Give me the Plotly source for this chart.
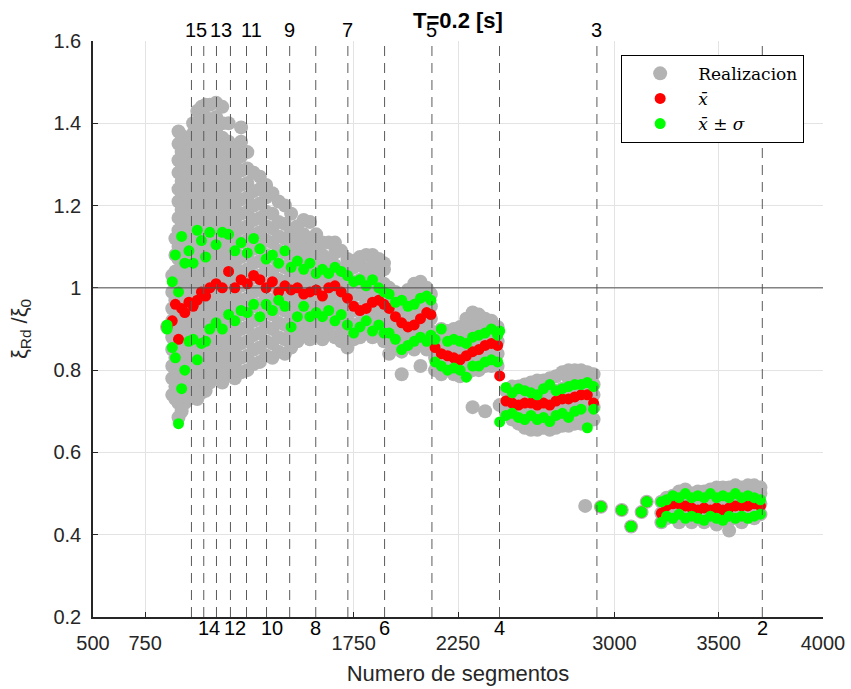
import plotly.graph_objects as go

# ---------------- data ----------------
x_cols = [855, 880, 895, 910, 925, 940, 960, 980, 1000, 1020, 1040, 1060, 1090, 1120, 1150,
          1180, 1210, 1240, 1270, 1300, 1330, 1360, 1390, 1420, 1450, 1480, 1510, 1540, 1570,
          1600, 1630, 1660, 1690, 1720, 1750, 1780, 1810, 1840, 1870, 1895,
          1920, 1950, 1980, 2010, 2040, 2070, 2100, 2120,
          2140, 2170, 2200, 2230, 2260, 2290, 2320, 2350, 2380, 2410, 2440,
          2450, 2480, 2510, 2540, 2570, 2600, 2630, 2660, 2690, 2720, 2750, 2780, 2810, 2840, 2870, 2900,
          2860, 2935, 3035, 3080, 3130, 3155, 3225,
          3250, 3280, 3310, 3340, 3370, 3400, 3430, 3460, 3490, 3520, 3550, 3580, 3610, 3640, 3670, 3700]

mean_vals = [0.905, 0.92, 0.96, 0.875, 0.95, 0.94, 0.965, 0.955, 0.97, 0.99, 0.98, 1.00, 1.01, 1.00, 1.04,
             1.00, 1.02, 1.01, 1.03, 1.02, 1.00, 1.015, 0.99, 1.005, 0.995, 1.00, 0.985, 0.99, 0.995,
             0.98, 1.00, 1.005, 0.99, 0.975, 0.955, 0.945, 0.95, 0.965, 0.97, 0.96,
             0.95, 0.93, 0.915, 0.905, 0.91, 0.925, 0.94, 0.935,
             0.855, 0.84, 0.835, 0.83, 0.825, 0.835, 0.845, 0.85, 0.86, 0.865, 0.86,
             0.786, 0.725, 0.72, 0.715, 0.72, 0.72, 0.715, 0.72, 0.715, 0.725, 0.73, 0.73, 0.735, 0.74, 0.74, 0.72,
             None, 0.468, 0.46, 0.42, 0.455, 0.48, 0.452,
             0.47, 0.475, 0.475, 0.47, 0.465, 0.46, 0.465, 0.46, 0.465, 0.46, 0.465, 0.47, 0.47, 0.47, 0.475, 0.47]

upper_vals = [0.91, 1.015, 1.08, 0.99, 1.125, 1.06, 1.09, 1.06, 1.14, 1.115, 1.075, 1.135, 1.105, 1.135, 1.13,
              1.09, 1.11, 1.085, 1.12, 1.095, 1.07, 1.08, 1.06, 1.09, 1.05, 1.065, 1.045, 1.06, 1.035,
              1.045, 1.035, 1.05, 1.04, 1.03, 1.015, 1.02, 1.005, 1.02, 1.00, 0.99,
              0.985, 0.965, 0.97, 0.955, 0.96, 0.975, 0.98, 0.97,
              0.875, 0.90, 0.87, 0.875, 0.87, 0.865, 0.88, 0.885, 0.89, 0.90, 0.885,
              0.895, 0.758, 0.745, 0.755, 0.75, 0.745, 0.74, 0.755, 0.765, 0.75, 0.755, 0.76, 0.765, 0.765, 0.77, 0.76,
              None, 0.468, 0.46, 0.42, 0.455, 0.48, 0.48,
              0.485, 0.495, 0.49, 0.50, 0.49, 0.495, 0.49, 0.50, 0.49, 0.495, 0.49, 0.50, 0.49, 0.495, 0.49, 0.485]

lower_vals = [0.90, 0.855, 0.83, 0.67, 0.755, 0.80, 0.87, 0.875, 0.825, 0.865, 0.87, 0.90, 0.915, 0.90, 0.935,
              0.92, 0.945, 0.94, 0.96, 0.93, 0.96, 0.945, 0.97, 0.955, 0.905, 0.93, 0.955, 0.93, 0.94,
              0.93, 0.945, 0.92, 0.935, 0.91, 0.89, 0.905, 0.92, 0.895, 0.91, 0.89,
              0.89, 0.875, 0.85, 0.86, 0.87, 0.88, 0.87, 0.885,
              0.82, 0.81, 0.80, 0.805, 0.80, 0.783, 0.81, 0.81, 0.82, 0.825, 0.82,
              0.674, 0.69, 0.695, 0.685, 0.68, 0.69, 0.68, 0.685, 0.675, 0.69, 0.695, 0.685, 0.70, 0.705, 0.66, 0.705,
              None, 0.468, 0.46, 0.42, 0.455, 0.48, 0.43,
              0.445, 0.44, 0.45, 0.44, 0.445, 0.44, 0.435, 0.445, 0.44, 0.435, 0.445, 0.44, 0.445, 0.44, 0.445, 0.45]

gray_vals = [
    [0.905],
    [0.74, 0.78, 0.81, 0.85, 0.88, 0.92, 0.95, 0.99, 1.03],
    [0.73, 0.76, 0.80, 0.83, 0.87, 0.90, 0.94, 0.97, 1.01, 1.04, 1.08, 1.12],
    [0.685, 0.72, 0.75, 0.79, 0.82, 0.86, 0.89, 0.93, 0.96, 1.00, 1.03, 1.07, 1.10, 1.14, 1.17, 1.21, 1.24, 1.28, 1.31, 1.35, 1.38],
    [0.70, 0.74, 0.77, 0.81, 0.84, 0.88, 0.91, 0.95, 0.98, 1.02, 1.05, 1.09, 1.12, 1.16, 1.19, 1.23, 1.26, 1.30, 1.33, 1.37],
    [0.72, 0.755, 0.79, 0.825, 0.86, 0.895, 0.93, 0.965, 1.0, 1.035, 1.07, 1.105, 1.14, 1.175, 1.21, 1.245, 1.28, 1.315, 1.35],
    [0.73, 0.77, 0.80, 0.84, 0.87, 0.91, 0.94, 0.98, 1.01, 1.05, 1.08, 1.12, 1.15, 1.19, 1.22, 1.26, 1.29, 1.33],
    [0.745, 0.78, 0.815, 0.85, 0.885, 0.92, 0.955, 0.99, 1.025, 1.06, 1.095, 1.13, 1.165, 1.2, 1.235, 1.27, 1.305, 1.34, 1.375, 1.40],
    [0.73, 0.765, 0.80, 0.835, 0.87, 0.905, 0.94, 0.975, 1.01, 1.045, 1.08, 1.115, 1.15, 1.185, 1.22, 1.255, 1.29, 1.325, 1.36, 1.395, 1.43],
    [0.745, 0.78, 0.815, 0.85, 0.885, 0.92, 0.955, 0.99, 1.025, 1.06, 1.095, 1.13, 1.165, 1.20, 1.235, 1.27, 1.305, 1.34, 1.375, 1.41, 1.44],
    [0.75, 0.785, 0.82, 0.855, 0.89, 0.925, 0.96, 0.995, 1.03, 1.065, 1.10, 1.135, 1.17, 1.205, 1.24, 1.275, 1.31, 1.345, 1.38, 1.415, 1.445],
    [0.77, 0.805, 0.84, 0.875, 0.91, 0.945, 0.98, 1.015, 1.05, 1.085, 1.12, 1.155, 1.19, 1.225, 1.26, 1.295, 1.33, 1.365, 1.40, 1.445],
    [0.785, 0.82, 0.855, 0.89, 0.925, 0.96, 0.995, 1.03, 1.065, 1.10, 1.135, 1.17, 1.205, 1.24, 1.275, 1.31, 1.345, 1.38, 1.415, 1.45],
    [0.77, 0.805, 0.84, 0.875, 0.91, 0.945, 0.98, 1.015, 1.05, 1.085, 1.12, 1.155, 1.19, 1.225, 1.26, 1.295, 1.33, 1.365, 1.40, 1.44],
    [0.795, 0.83, 0.865, 0.90, 0.935, 0.97, 1.005, 1.04, 1.075, 1.11, 1.145, 1.18, 1.215, 1.25, 1.285, 1.32, 1.355, 1.40],
    [0.78, 0.815, 0.85, 0.885, 0.92, 0.955, 0.99, 1.025, 1.06, 1.095, 1.13, 1.165, 1.20, 1.235, 1.27, 1.305, 1.34],
    [0.795, 0.83, 0.865, 0.90, 0.935, 0.97, 1.005, 1.04, 1.075, 1.11, 1.145, 1.18, 1.215, 1.25, 1.285, 1.32, 1.355, 1.39],
    [0.80, 0.835, 0.87, 0.905, 0.94, 0.975, 1.01, 1.045, 1.08, 1.115, 1.15, 1.185, 1.22, 1.255, 1.29, 1.33],
    [0.815, 0.85, 0.885, 0.92, 0.955, 0.99, 1.025, 1.06, 1.095, 1.13, 1.165, 1.20, 1.235, 1.28],
    [0.82, 0.855, 0.89, 0.925, 0.96, 0.995, 1.03, 1.065, 1.10, 1.135, 1.17, 1.205, 1.24, 1.27],
    [0.835, 0.87, 0.905, 0.94, 0.975, 1.01, 1.045, 1.08, 1.115, 1.15, 1.185, 1.22, 1.25],
    [0.83, 0.865, 0.90, 0.935, 0.97, 1.005, 1.04, 1.075, 1.11, 1.145, 1.18, 1.23],
    [0.845, 0.88, 0.915, 0.95, 0.985, 1.02, 1.055, 1.09, 1.125, 1.16, 1.21],
    [0.84, 0.875, 0.91, 0.945, 0.98, 1.015, 1.05, 1.085, 1.12, 1.155, 1.20],
    [0.855, 0.89, 0.925, 0.96, 0.995, 1.03, 1.065, 1.10, 1.135, 1.18],
    [0.87, 0.905, 0.94, 0.975, 1.01, 1.045, 1.08, 1.115, 1.15],
    [0.885, 0.92, 0.955, 0.99, 1.025, 1.06, 1.095, 1.13, 1.165],
    [0.875, 0.91, 0.945, 0.98, 1.015, 1.05, 1.085, 1.12, 1.16],
    [0.89, 0.925, 0.96, 0.995, 1.03, 1.065, 1.10, 1.13],
    [0.875, 0.91, 0.945, 0.98, 1.015, 1.05, 1.08, 1.11],
    [0.89, 0.925, 0.96, 0.995, 1.03, 1.065, 1.11],
    [0.88, 0.915, 0.95, 0.985, 1.02, 1.055, 1.085, 1.11],
    [0.87, 0.905, 0.94, 0.975, 1.01, 1.045, 1.09],
    [0.855, 0.89, 0.925, 0.96, 0.995, 1.03, 1.07],
    [0.875, 0.91, 0.945, 0.98, 1.015, 1.05, 1.065],
    [0.88, 0.915, 0.95, 0.985, 1.02, 1.055, 1.075],
    [0.895, 0.93, 0.965, 1.0, 1.035, 1.08],
    [0.88, 0.915, 0.95, 0.985, 1.02, 1.055, 1.08],
    [0.895, 0.93, 0.965, 1.0, 1.035, 1.07],
    [0.87, 0.905, 0.94, 0.975, 1.01, 1.045, 1.06],
    # cluster 2
    [0.84, 0.87, 0.90, 0.93, 0.96, 1.0],
    [0.855, 0.885, 0.915, 0.945, 0.975, 0.99],
    [0.79, 0.845, 0.875, 0.905, 0.935, 0.965, 0.98],
    [0.86, 0.89, 0.92, 0.95, 0.98, 0.995],
    [0.85, 0.88, 0.91, 0.94, 0.97, 1.01],
    [0.81, 0.865, 0.895, 0.925, 0.955, 0.985, 1.015],
    [0.85, 0.88, 0.91, 0.94, 0.97, 1.0],
    [0.865, 0.895, 0.925, 0.955, 0.985],
    # cluster 3
    [0.80, 0.83, 0.86, 0.88],
    [0.79, 0.82, 0.85, 0.875, 0.90],
    [0.805, 0.835, 0.865, 0.895],
    [0.79, 0.82, 0.85, 0.875, 0.90],
    [0.785, 0.815, 0.845, 0.875, 0.905],
    [0.79, 0.82, 0.85, 0.88, 0.905, 0.925],
    [0.71, 0.80, 0.83, 0.86, 0.89, 0.915, 0.94],
    [0.80, 0.83, 0.86, 0.89, 0.915, 0.935],
    [0.70, 0.81, 0.84, 0.87, 0.90, 0.925],
    [0.81, 0.84, 0.87, 0.895, 0.92],
    [0.81, 0.84, 0.87, 0.905],
    # cluster 4
    [0.715],
    [0.695, 0.72, 0.75],
    [0.68, 0.71, 0.735, 0.76],
    [0.67, 0.70, 0.73, 0.76],
    [0.66, 0.69, 0.72, 0.745, 0.765],
    [0.655, 0.685, 0.715, 0.745, 0.77],
    [0.655, 0.685, 0.715, 0.745, 0.775],
    [0.66, 0.69, 0.72, 0.75, 0.775],
    [0.655, 0.685, 0.715, 0.745, 0.78],
    [0.66, 0.69, 0.72, 0.75, 0.785],
    [0.665, 0.695, 0.725, 0.755, 0.795],
    [0.665, 0.695, 0.725, 0.755, 0.78, 0.80],
    [0.67, 0.70, 0.73, 0.76, 0.80],
    [0.67, 0.70, 0.73, 0.76, 0.785, 0.80],
    [0.675, 0.705, 0.735, 0.765, 0.795],
    [0.68, 0.71, 0.74, 0.765, 0.79],
    # cluster 5 (sparse start)
    [0.47],
    [0.468],
    [0.46],
    [0.42],
    [0.455],
    [0.48],
    [0.43, 0.452, 0.48],
    # cluster 5
    [0.44, 0.465, 0.49],
    [0.445, 0.47, 0.495],
    [0.43, 0.455, 0.48, 0.505],
    [0.44, 0.465, 0.49, 0.51],
    [0.43, 0.455, 0.48, 0.50],
    [0.44, 0.465, 0.49, 0.505],
    [0.43, 0.455, 0.48, 0.505],
    [0.44, 0.465, 0.49, 0.51],
    [0.425, 0.45, 0.475, 0.50, 0.515],
    [0.435, 0.46, 0.485, 0.515],
    [0.41, 0.435, 0.46, 0.485, 0.515],
    [0.44, 0.465, 0.49, 0.52],
    [0.43, 0.455, 0.48, 0.515],
    [0.445, 0.47, 0.495, 0.52],
    [0.44, 0.465, 0.49, 0.52],
    [0.45, 0.475, 0.50, 0.515],
]

seg_x = [972, 1031, 1092, 1159, 1236, 1332, 1443, 1568, 1722, 1898, 2125, 2449, 2916, 3709]
seg_n = [15, 14, 13, 12, 11, 10, 9, 8, 7, 6, 5, 4, 3, 2]

x_tickvals = [500, 750, 1750, 2250, 3000, 3500, 4000]
y_tickvals = [0.2, 0.4, 0.6, 0.8, 1.0, 1.2, 1.4, 1.6]
y_ticktext = ["0.2", "0.4", "0.6", "0.8", "1", "1.2", "1.4", "1.6"]
ref_level = 1.0

# ---------------- build traces ----------------
gx, gy = [], []
for xv, vals in zip(x_cols, gray_vals):
    for v in vals:
        gx.append(xv)
        gy.append(v)

mx = [xv for xv, m in zip(x_cols, mean_vals) if m is not None]
my = [m for m in mean_vals if m is not None]
sx = [xv for xv, u in zip(x_cols, upper_vals) if u is not None] + \
     [xv for xv, l in zip(x_cols, lower_vals) if l is not None]
sy = [u for u in upper_vals if u is not None] + [l for l in lower_vals if l is not None]

fig = go.Figure()
fig.add_trace(go.Scatter(x=gx, y=gy, mode="markers", name="Realizacion",
                         marker=dict(color="#b3b3b3", size=14, line=dict(width=0))))
fig.add_trace(go.Scatter(x=mx, y=my, mode="markers", name="<i>x\u0304</i>",
                         marker=dict(color="#ff0000", size=11, line=dict(width=0))))
fig.add_trace(go.Scatter(x=sx, y=sy, mode="markers", name="<i>x\u0304</i> \u00b1 <i>\u03c3</i>",
                         marker=dict(color="#00ff00", size=11, line=dict(width=0))))

shapes = []
for xv in seg_x:
    shapes.append(dict(type="line", xref="x", yref="paper", x0=xv, x1=xv, y0=0, y1=1,
                       line=dict(color="#5a5a5a", width=1, dash="10px,7px"), layer="above"))
shapes.append(dict(type="line", xref="paper", yref="y", x0=0, x1=1, y0=ref_level, y1=ref_level,
                   line=dict(color="#4d4d4d", width=1), layer="above"))

annotations = []
for xv, n in zip(seg_x, seg_n):
    shift = 5 if n >= 10 else 0
    if n % 2 == 1:
        annotations.append(dict(x=xv, y=1, xref="x", yref="paper", text=str(n), showarrow=False,
                                xanchor="center", yanchor="bottom", xshift=shift, yshift=-2,
                                font=dict(family="Liberation Sans, Arial", size=20, color="#000000")))
    else:
        annotations.append(dict(x=xv, y=0, xref="x", yref="paper", text=str(n), showarrow=False,
                                xanchor="center", yanchor="top", xshift=shift, yshift=2,
                                font=dict(family="Liberation Sans, Arial", size=20, color="#000000")))

axis_font = dict(family="Liberation Sans, Arial", size=20, color="#262626")

fig.update_layout(
    width=851, height=689,
    margin=dict(l=93, r=28, t=41, b=72),
    paper_bgcolor="white", plot_bgcolor="white",
    title=dict(text="<b>T=0.2 [s]</b>", x=0.5, xref="paper", xanchor="center",
               y=1 - 20 / 689, yanchor="middle", yref="container",
               font=dict(family="Liberation Sans, Arial", size=22, color="#000000")),
    xaxis=dict(range=[500, 4000], tickvals=x_tickvals, ticks="inside", ticklen=5,
               tickcolor="#262626", tickwidth=1, showline=True, linecolor="#262626", linewidth=1.5,
               showgrid=True, gridcolor="#e3e3e3", gridwidth=1, zeroline=False,
               tickfont=axis_font, ticklabelstandoff=7, automargin=False,
               title=dict(text="Numero de segmentos", standoff=13,
                          font=dict(family="Liberation Sans, Arial", size=22, color="#262626"))),
    yaxis=dict(range=[0.2, 1.6], tickvals=y_tickvals, ticktext=y_ticktext, ticks="inside", ticklen=5,
               tickcolor="#262626", tickwidth=1, showline=True, linecolor="#262626", linewidth=1.5,
               showgrid=True, gridcolor="#e3e3e3", gridwidth=1, zeroline=False,
               tickfont=axis_font, ticklabelstandoff=6, automargin=False,
               title=dict(text="\u03be<sub>Rd</sub> /\u03be<sub>0</sub>", standoff=20,
                          font=dict(family="Liberation Sans, Arial", size=22, color="#262626"))),
    legend=dict(x=0.7235, y=0.976, xanchor="left", yanchor="top", bgcolor="white",
                bordercolor="#000000", borderwidth=1, itemwidth=66, tracegroupgap=0,
                font=dict(family="DejaVu Serif, Liberation Serif", size=17, color="#000000")),
    shapes=shapes, annotations=annotations, showlegend=True,
)

fig.write_html("out.html")
